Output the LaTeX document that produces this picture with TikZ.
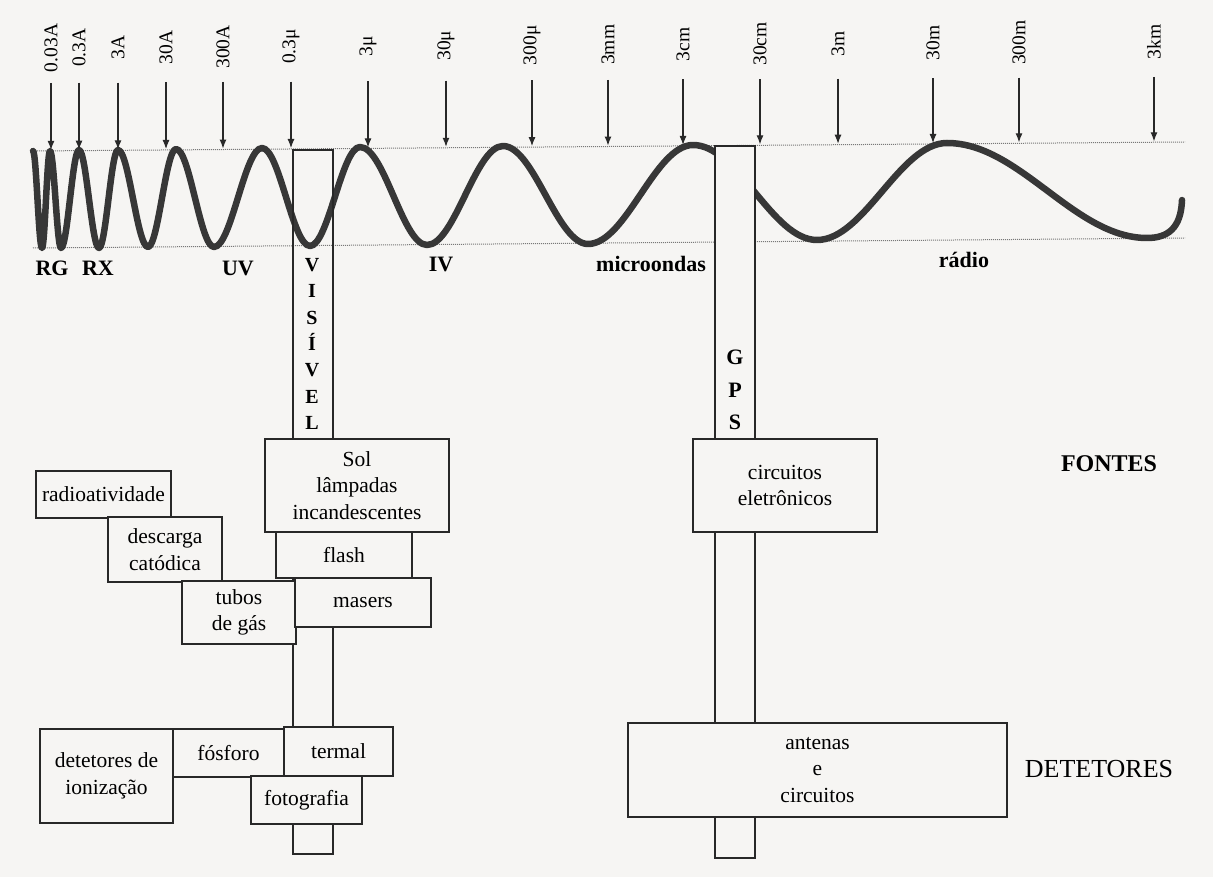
\documentclass[tikz,border=0pt]{standalone}
\usepackage{fontspec}
\setmainfont{Liberation Serif}
\usetikzlibrary{arrows.meta}
\definecolor{paper}{RGB}{246,245,243}
\definecolor{ink}{RGB}{40,40,40}
\definecolor{wavegray}{RGB}{55,55,55}
\definecolor{guidegray}{RGB}{120,120,120}
\begin{document}
\begin{tikzpicture}[x=1pt,y=-1pt,
  box/.style={draw=ink, fill=paper, line width=1.3pt, align=center, inner sep=0pt,
    font=\fontsize{21.5}{26.5}\selectfont},
  band/.style={draw=ink, line width=1.3pt, inner sep=0pt},
  wave/.style={draw=wavegray, line width=6.5pt, line cap=round, line join=round},
  guide/.style={draw=guidegray, line width=1pt, densely dotted},
  tick/.style={draw=ink, line width=1.1pt, -{Latex[length=9pt,width=7pt]}},
  scale label/.style={rotate=90, font=\fontsize{19.5}{21}\selectfont},
  region/.style={font=\bfseries\fontsize{22}{24}\selectfont, anchor=base}]

\fill[paper] (0,0) rectangle (1213,877);
\useasboundingbox (0,0) rectangle (1213,877);

% limites da onda
\coordinate (topL) at (33,151); \coordinate (topR) at (1185,142);
\coordinate (botL) at (33,248); \coordinate (botR) at (1185,238);
\draw[guide] (topL) -- (topR);
\draw[guide] (botL) -- (botR);

% onda
\draw[wave] (33,151) foreach \xb/\yb [remember=\xb as \xa (initially 33), remember=\yb as \ya (initially 151)]
  in {42/248, 50/151, 61/248, 79/150, 99/248, 118/150, 148/247, 176/149, 214/247, 262/148,
      310/246, 360/147, 427/245, 503/146, 588/244, 693/145, 817/240, 947/143, 1147/238}
  { .. controls ({\xa+0.364*(\xb-\xa)},\ya) and ({\xb-0.364*(\xb-\xa)},\yb) .. (\xb,\yb) }
  .. controls (1168,238) and (1181,228) .. (1182,200);

% escala de comprimentos de onda
\foreach \x/\t [count=\i] in {51/0.03A, 79/0.3A, 118/3A, 166/30A, 223/300A, 291/0.3μ, 368/3μ,
    446/30μ, 532/300μ, 608/3mm, 683/3cm, 760/30cm, 838/3m, 933/30m, 1019/300m, 1154/3km} {
  \pgfmathsetmacro{\ys}{83-(\x-33)*0.0055}
  \pgfmathsetmacro{\ye}{150-(\x-33)*0.0078}
  \coordinate (s\i) at (\x,\ys);
  \coordinate (e\i) at (\x,\ye);
  \node[scale label] (w\i) at (\x,\ys-35) {\t};
  \draw[tick] (s\i) -- (e\i);
}

\node[region] (rg) at (52,276) {RG};
\node[region] (rx) at (98,276) {RX};
\node[region] (uv) at (238,276) {UV};
\node[region] (iv) at (441,272) {IV};
\node[region] (mw) at (651,272) {microondas};
\node[region] (rw) at (964,268) {rádio};

% faixas verticais
\node[band, minimum width=40, minimum height=704] (viscol) at (313,502) {};
\node[band, fill=paper, minimum width=40, minimum height=712] (gpscol) at (735,502) {};
\node[font=\bfseries\fontsize{20}{26.3}\selectfont, align=center, inner sep=0pt] (visivel) at (312,344) {V\\I\\S\\Í\\V\\E\\L};
\node[font=\bfseries\fontsize{22}{32.5}\selectfont, align=center, inner sep=0pt] (gps) at (735,390) {G\\P\\S};

% fontes
\node[box, minimum width=135, minimum height=47] (radioat) at (103.5,494.5) {radioatividade};
\node[box, minimum width=114, minimum height=65] (descarga) at (165,549.5) {descarga\\catódica};
\node[box, minimum width=114, minimum height=63] (tubos) at (239,612.5) {tubos\\de gás};
\node[box, minimum width=184, minimum height=93] (sol) at (357,485.5) {Sol\\lâmpadas\\incandescentes};
\node[box, minimum width=136, minimum height=46] (flash) at (344,555) {flash};
\node[box, minimum width=136, minimum height=49] (masers) at (363,602.5) {masers};
\node[box, minimum width=184, minimum height=93] (circuitos) at (785,485.5) {circuitos\\eletrônicos};

% detetores
\node[box, minimum width=133, minimum height=94] (ioniz) at (106.5,776) {detetores de\\ionização};
\node[box, minimum width=111, minimum height=48] (fosforo) at (228.5,753) {fósforo};
\node[box, minimum width=109, minimum height=49] (termal) at (338.5,751.5) {termal};
\node[box, minimum width=111, minimum height=48] (foto) at (306.5,800) {fotografia};
\node[box, minimum width=379, minimum height=94] (antenas) at (817.5,770) {antenas\\e\\circuitos};

\node[font=\bfseries\fontsize{24}{26}\selectfont] (fontes) at (1109,464) {FONTES};
\node[font=\fontsize{26}{28}\selectfont] (detetores) at (1099,769) {DETETORES};
\end{tikzpicture}
\end{document}
